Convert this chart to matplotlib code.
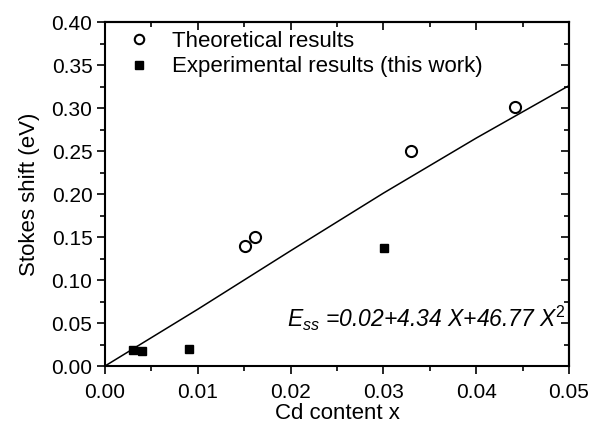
import numpy as np
import matplotlib.pyplot as plt
from matplotlib.ticker import MultipleLocator, NullFormatter

plt.rcParams['font.family'] = ['Liberation Sans', 'DejaVu Sans']
plt.rcParams['mathtext.fontset'] = 'custom'
plt.rcParams['mathtext.rm'] = 'Liberation Sans'
plt.rcParams['mathtext.it'] = 'Liberation Sans:italic'

# theoretical points (open circles)
theo_x = [0.0151, 0.0162, 0.0330, 0.0442]
theo_y = [0.139, 0.150, 0.250, 0.301]

# experimental points (filled squares)
exp_x = [0.0030, 0.0040, 0.0090, 0.0301]
exp_y = [0.019, 0.017, 0.020, 0.137]

# fitted curve
fit_x = [0.0, 0.01, 0.02, 0.03, 0.04, 0.05]
fit_y = [0.0, 0.066, 0.134, 0.201, 0.265, 0.326]

fig = plt.figure(figsize=(6.01, 4.25), dpi=100)
ax = fig.add_axes([0.1747, 0.1388, 0.772, 0.8094])

ax.plot(fit_x, fit_y, color='black', lw=1.1)
ax.plot(theo_x, theo_y, 'o', mfc='white', mec='black', mew=1.5, ms=8,
        label='Theoretical results', linestyle='none')
ax.plot(exp_x, exp_y, 's', color='black', ms=6,
        label='Experimental results (this work)', linestyle='none')

ax.set_xlim(0, 0.05)
ax.set_ylim(0, 0.40)

def set_locs(axis, major, minor):
    axis.set_major_locator(MultipleLocator(major))
    axis.set_minor_locator(MultipleLocator(minor))

set_locs(ax.xaxis, 0.01, 0.005)
set_locs(ax.yaxis, 0.05, 0.025)
ax.xaxis.set_major_formatter(plt.FormatStrFormatter('%.2f'))
ax.yaxis.set_major_formatter(plt.FormatStrFormatter('%.2f'))

# bottom/left ticks outward, top/right ticks inward
ax.tick_params(which='both', direction='out', width=1.2)
ax.tick_params(which='major', length=6, labelsize=15)
ax.tick_params(which='minor', length=3.5)
ax.tick_params(axis='y', pad=3)
ax.tick_params(axis='x', pad=6.5)

top = ax.secondary_xaxis('top')
right = ax.secondary_yaxis('right')
set_locs(top.xaxis, 0.01, 0.005)
set_locs(right.yaxis, 0.05, 0.025)
for sec in (top, right):
    sec.tick_params(which='both', direction='in', width=1.2)
    sec.tick_params(which='major', length=6)
    sec.tick_params(which='minor', length=3.5)
top.xaxis.set_major_formatter(NullFormatter())
right.yaxis.set_major_formatter(NullFormatter())
for s in list(ax.spines.values()) + [top.spines['top'], right.spines['right']]:
    s.set_linewidth(1.5)

ax.set_xlabel('Cd content x', fontsize=16, labelpad=0.5)
ax.set_ylabel('Stokes shift (eV)', fontsize=16, labelpad=8)

ax.legend(loc='upper left', bbox_to_anchor=(0.011, 1.0), frameon=False,
          fontsize=16, handletextpad=0.6, borderaxespad=0.0,
          labelspacing=0.2, handlelength=1.8, markerscale=0.85)

ax.text(0.0496, 0.055, r'$\mathit{E}_{\mathit{ss}}$ =0.02+4.34 X+46.77 X$^{\mathit{2}}$',
        fontsize=16.5, style='italic', ha='right', va='center')

fig.savefig('out.png', dpi=100)
